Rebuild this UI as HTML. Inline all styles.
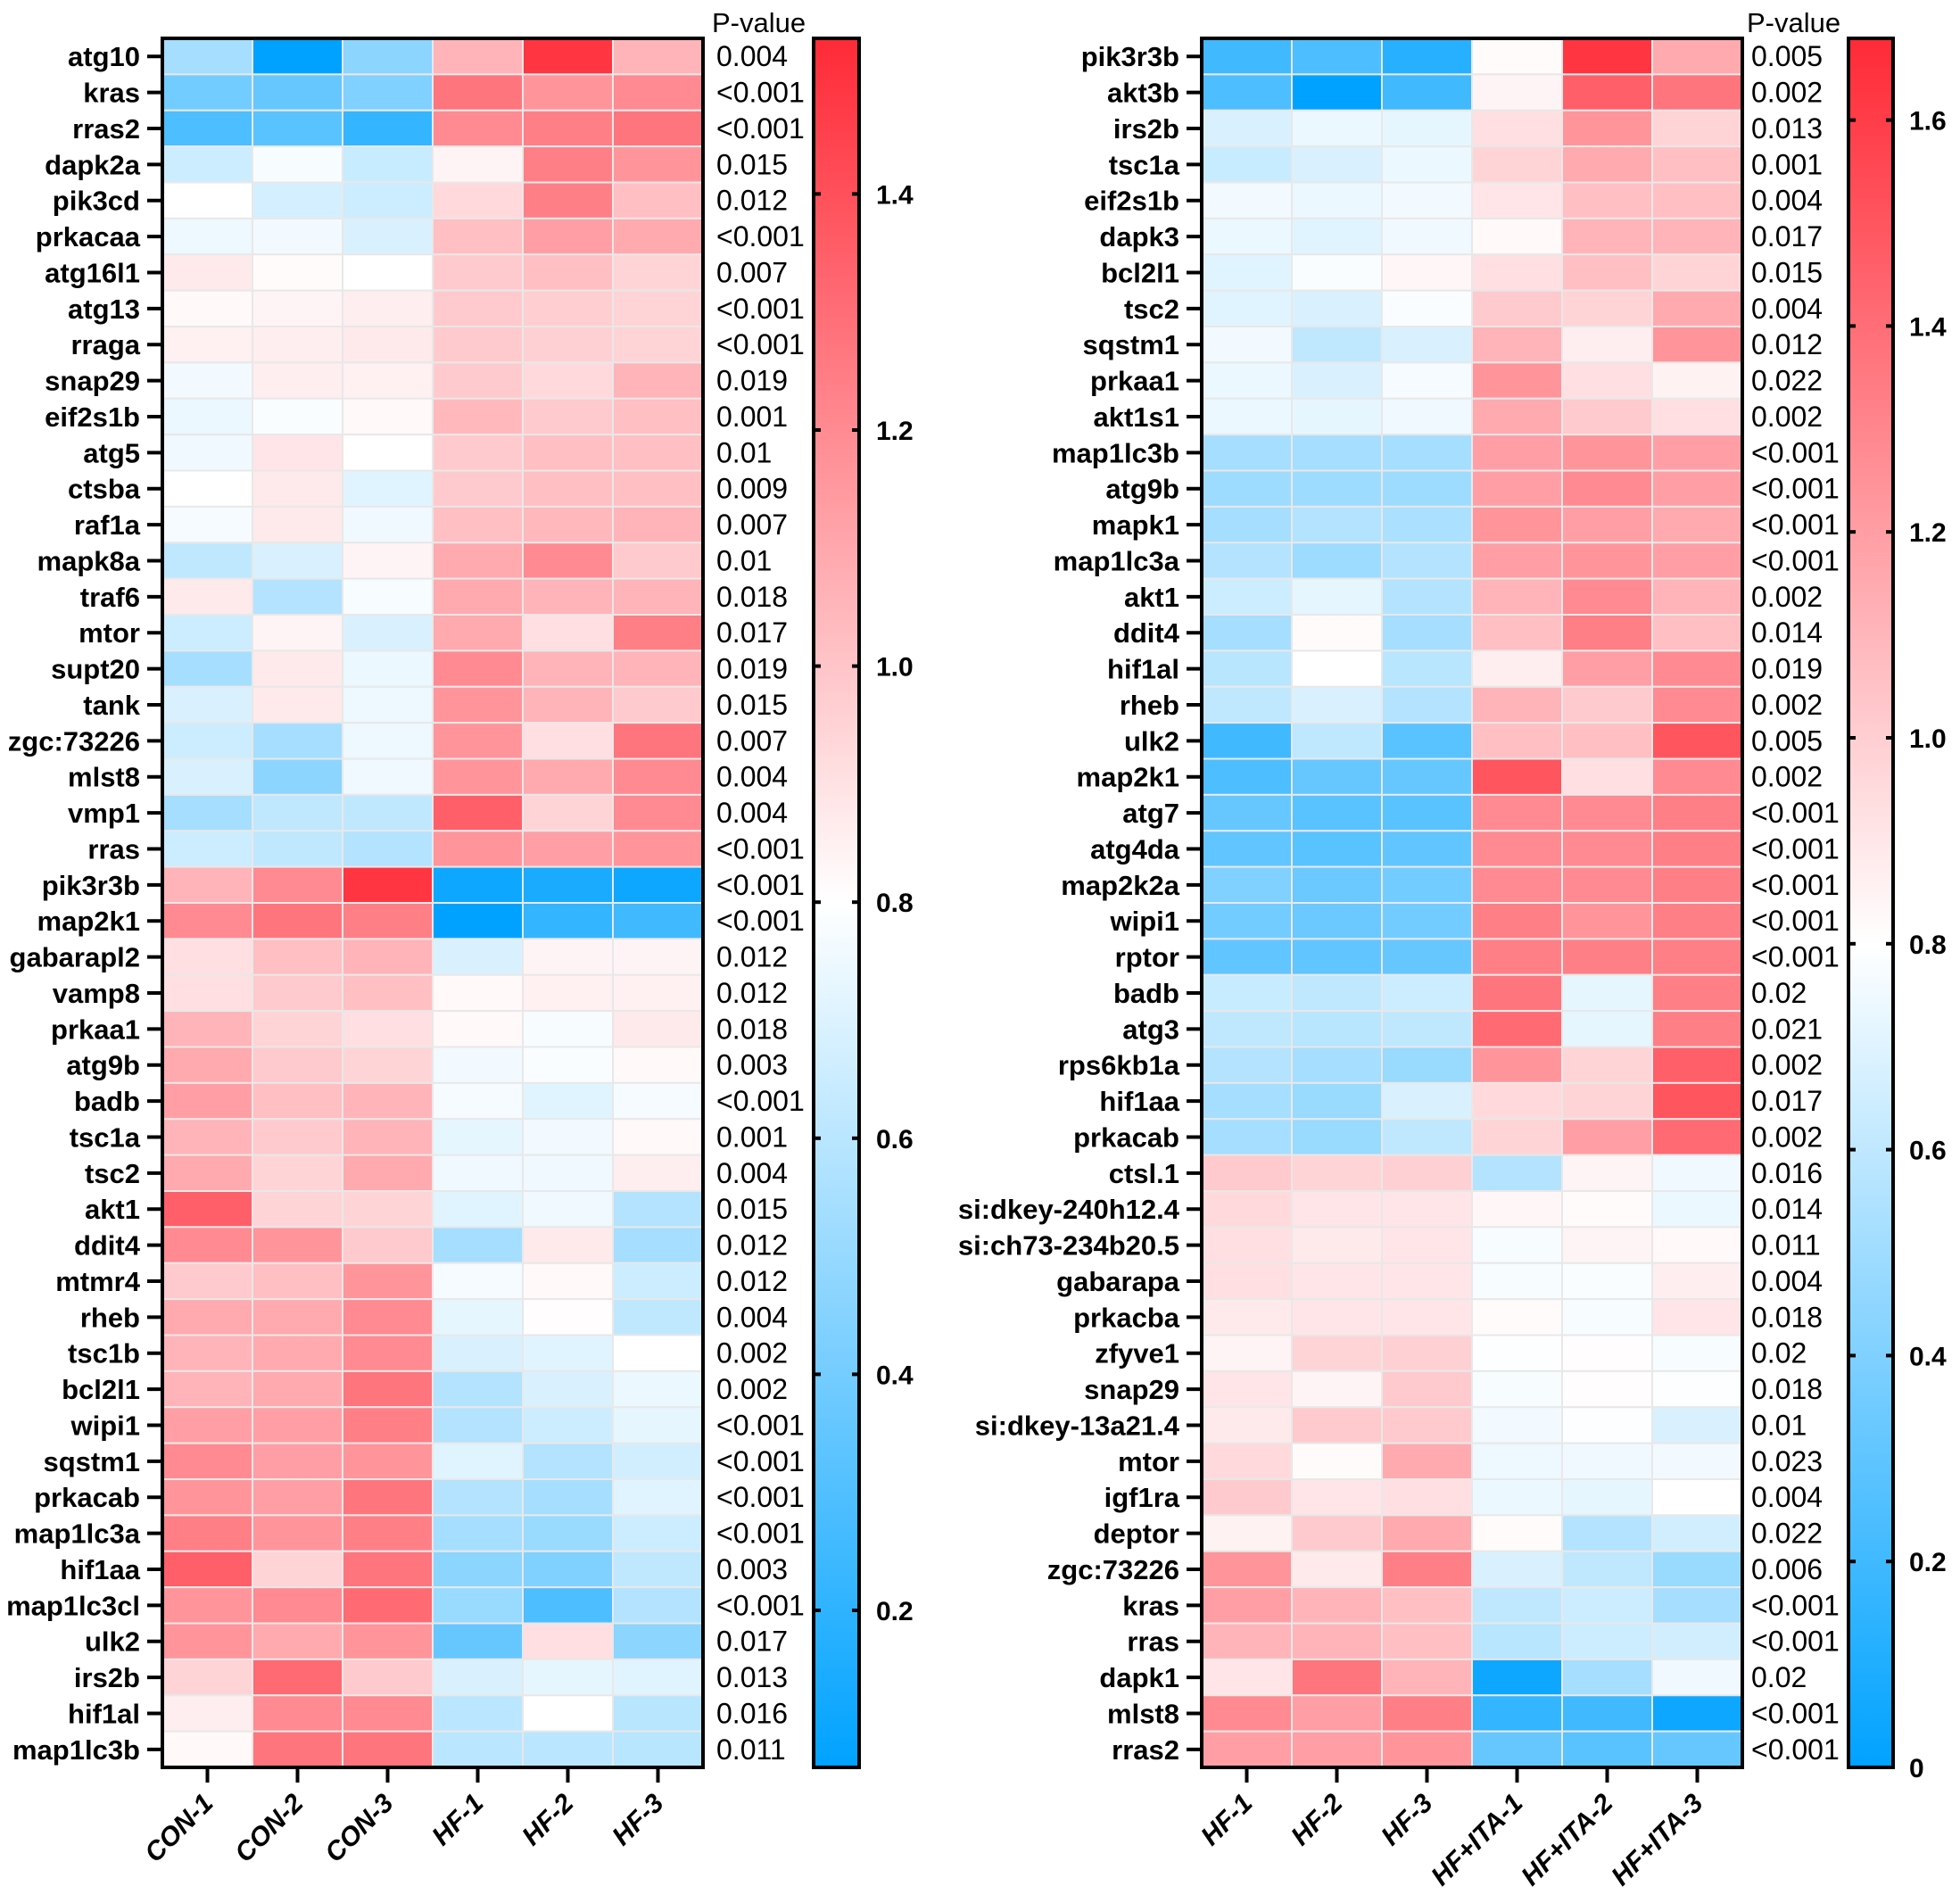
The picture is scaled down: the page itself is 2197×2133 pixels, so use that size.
<!DOCTYPE html>
<html><head><meta charset="utf-8"><style>
html,body{margin:0;padding:0;background:#fff;}
svg{display:block;font-family:"Liberation Sans",Arial,sans-serif;}
</style></head><body>
<svg id="chart" width="2197" height="2133" viewBox="0 0 2197 2133" xmlns="http://www.w3.org/2000/svg"></svg>
<script>
// ---------- Left heatmap data (signed intensity: -1 full blue, 0 white, +1 full red) ----------
const leftCols = ["CON-1","CON-2","CON-3","HF-1","HF-2","HF-3"];
const leftRows = ["atg10","kras","rras2","dapk2a","pik3cd","prkacaa","atg16l1","atg13","rraga","snap29","eif2s1b","atg5","ctsba","raf1a","mapk8a","traf6","mtor","supt20","tank","zgc:73226","mlst8","vmp1","rras","pik3r3b","map2k1","gabarapl2","vamp8","prkaa1","atg9b","badb","tsc1a","tsc2","akt1","ddit4","mtmr4","rheb","tsc1b","bcl2l1","wipi1","sqstm1","prkacab","map1lc3a","hif1aa","map1lc3cl","ulk2","irs2b","hif1al","map1lc3b"];
const leftP = ["0.004","<0.001","<0.001","0.015","0.012","<0.001","0.007","<0.001","<0.001","0.019","0.001","0.01","0.009","0.007","0.01","0.018","0.017","0.019","0.015","0.007","0.004","0.004","<0.001","<0.001","<0.001","0.012","0.012","0.018","0.003","<0.001","0.001","0.004","0.015","0.012","0.012","0.004","0.002","0.002","<0.001","<0.001","<0.001","<0.001","0.003","<0.001","0.017","0.013","0.016","0.011"];
const leftVals = [
[-0.35,-1,-0.45,0.35,0.95,0.35],[-0.55,-0.6,-0.5,0.65,0.5,0.55],[-0.7,-0.65,-0.8,0.55,0.6,0.65],
[-0.2,-0.03,-0.22,0.05,0.6,0.5],[0,-0.17,-0.2,0.18,0.6,0.3],[-0.07,-0.05,-0.15,0.3,0.45,0.4],
[0.1,0.02,0,0.25,0.3,0.2],[0.03,0.05,0.08,0.25,0.23,0.2],[0.07,0.08,0.1,0.25,0.22,0.2],
[-0.05,0.08,0.07,0.25,0.18,0.35],[-0.08,-0.02,0.03,0.33,0.25,0.3],[-0.06,0.12,0,0.25,0.3,0.3],
[0,0.1,-0.12,0.25,0.3,0.3],[-0.04,0.1,-0.06,0.3,0.33,0.35],[-0.25,-0.15,0.05,0.4,0.55,0.25],
[0.1,-0.3,-0.03,0.4,0.35,0.35],[-0.2,0.05,-0.15,0.4,0.15,0.6],[-0.35,0.1,-0.08,0.55,0.35,0.35],
[-0.15,0.1,-0.07,0.5,0.35,0.25],[-0.2,-0.35,-0.07,0.5,0.15,0.65],[-0.15,-0.45,-0.06,0.5,0.4,0.55],
[-0.35,-0.25,-0.25,0.75,0.2,0.55],[-0.2,-0.25,-0.3,0.5,0.45,0.5],[0.35,0.55,0.95,-0.95,-0.9,-0.95],
[0.55,0.65,0.6,-1,-0.8,-0.75],[0.15,0.3,0.35,-0.15,0.05,0.05],[0.15,0.25,0.3,0.03,0.07,0.07],
[0.35,0.2,0.15,0.03,-0.03,0.1],[0.4,0.25,0.2,-0.05,-0.02,0.03],[0.45,0.3,0.35,-0.04,-0.12,-0.04],
[0.35,0.25,0.35,-0.1,-0.05,0.03],[0.4,0.2,0.4,-0.06,-0.06,0.08],[0.75,0.2,0.2,-0.12,-0.06,-0.3],
[0.55,0.5,0.25,-0.35,0.1,-0.35],[0.25,0.3,0.5,-0.04,0.03,-0.2],[0.4,0.4,0.55,-0.1,0.01,-0.25],
[0.35,0.4,0.55,-0.15,-0.12,0],[0.35,0.4,0.65,-0.3,-0.15,-0.08],[0.45,0.45,0.6,-0.3,-0.2,-0.1],
[0.55,0.45,0.5,-0.12,-0.3,-0.18],[0.5,0.45,0.65,-0.3,-0.35,-0.12],[0.6,0.5,0.6,-0.35,-0.4,-0.2],
[0.75,0.2,0.65,-0.45,-0.5,-0.25],[0.5,0.55,0.7,-0.4,-0.7,-0.3],[0.5,0.4,0.5,-0.6,0.15,-0.45],
[0.2,0.7,0.25,-0.15,-0.1,-0.12],[0.08,0.55,0.55,-0.27,0,-0.28],[0.03,0.65,0.65,-0.27,-0.27,-0.28]];
const leftTicks = ["0.2","0.4","0.6","0.8","1.0","1.2","1.4"];
const leftTickVals = [0.2,0.4,0.6,0.8,1.0,1.2,1.4];

// ---------- Right heatmap data ----------
const rightCols = ["HF-1","HF-2","HF-3","HF+ITA-1","HF+ITA-2","HF+ITA-3"];
const rightRows = ["pik3r3b","akt3b","irs2b","tsc1a","eif2s1b","dapk3","bcl2l1","tsc2","sqstm1","prkaa1","akt1s1","map1lc3b","atg9b","mapk1","map1lc3a","akt1","ddit4","hif1al","rheb","ulk2","map2k1","atg7","atg4da","map2k2a","wipi1","rptor","badb","atg3","rps6kb1a","hif1aa","prkacab","ctsl.1","si:dkey-240h12.4","si:ch73-234b20.5","gabarapa","prkacba","zfyve1","snap29","si:dkey-13a21.4","mtor","igf1ra","deptor","zgc:73226","kras","rras","dapk1","mlst8","rras2"];
const rightP = ["0.005","0.002","0.013","0.001","0.004","0.017","0.015","0.004","0.012","0.022","0.002","<0.001","<0.001","<0.001","<0.001","0.002","0.014","0.019","0.002","0.005","0.002","<0.001","<0.001","<0.001","<0.001","<0.001","0.02","0.021","0.002","0.017","0.002","0.016","0.014","0.011","0.004","0.018","0.02","0.018","0.01","0.023","0.004","0.022","0.006","<0.001","<0.001","0.02","<0.001","<0.001"];
const rightVals = [
[-0.75,-0.7,-0.85,0.02,0.95,0.4],[-0.7,-1,-0.75,0.05,0.75,0.65],[-0.15,-0.08,-0.1,0.15,0.5,0.2],
[-0.22,-0.15,-0.08,0.2,0.4,0.3],[-0.05,-0.08,-0.05,0.12,0.3,0.3],[-0.08,-0.12,-0.06,0.03,0.35,0.35],
[-0.12,-0.02,0.04,0.15,0.3,0.2],[-0.12,-0.15,-0.02,0.25,0.2,0.4],[-0.05,-0.25,-0.15,0.35,0.08,0.5],
[-0.08,-0.15,-0.04,0.5,0.15,0.06],[-0.08,-0.1,-0.06,0.4,0.25,0.15],[-0.35,-0.35,-0.35,0.45,0.5,0.45],
[-0.38,-0.38,-0.38,0.45,0.55,0.45],[-0.35,-0.3,-0.33,0.5,0.45,0.4],[-0.3,-0.38,-0.3,0.45,0.5,0.45],
[-0.2,-0.1,-0.3,0.35,0.55,0.35],[-0.35,0.02,-0.35,0.3,0.6,0.3],[-0.28,0,-0.28,0.08,0.45,0.55],
[-0.25,-0.15,-0.3,0.35,0.25,0.55],[-0.75,-0.25,-0.65,0.3,0.3,0.8],[-0.7,-0.6,-0.6,0.8,0.15,0.55],
[-0.6,-0.65,-0.65,0.55,0.55,0.6],[-0.62,-0.65,-0.62,0.55,0.55,0.6],[-0.5,-0.58,-0.55,0.55,0.55,0.6],
[-0.55,-0.58,-0.55,0.6,0.5,0.6],[-0.62,-0.62,-0.6,0.6,0.6,0.6],[-0.22,-0.25,-0.2,0.65,-0.1,0.6],
[-0.25,-0.28,-0.25,0.7,-0.1,0.6],[-0.3,-0.35,-0.4,0.5,0.2,0.75],[-0.35,-0.4,-0.15,0.18,0.2,0.8],
[-0.35,-0.4,-0.25,0.2,0.45,0.7],[0.25,0.2,0.22,-0.3,0.05,-0.06],[0.18,0.12,0.12,0.04,0.02,-0.08],
[0.15,0.1,0.12,-0.03,0.05,0.03],[0.15,0.12,0.12,-0.03,-0.02,0.08],[0.1,0.12,0.12,0.02,-0.03,0.12],
[0.05,0.2,0.22,-0.01,0.01,-0.03],[0.12,0.05,0.25,-0.03,0.01,-0.01],[0.1,0.25,0.25,-0.05,-0.01,-0.15],
[0.18,0.02,0.4,-0.07,-0.06,-0.05],[0.25,0.12,0.15,-0.08,-0.1,0],[0.06,0.25,0.4,0.02,-0.3,-0.18],
[0.5,0.1,0.6,-0.15,-0.25,-0.4],[0.45,0.35,0.3,-0.25,-0.2,-0.35],[0.35,0.35,0.3,-0.28,-0.2,-0.18],
[0.12,0.65,0.35,-0.95,-0.35,-0.06],[0.55,0.45,0.6,-0.8,-0.75,-0.95],[0.45,0.45,0.5,-0.6,-0.65,-0.6]];
const rightTicks = ["0","0.2","0.4","0.6","0.8","1.0","1.2","1.4","1.6"];
const rightTickVals = [0,0.2,0.4,0.6,0.8,1.0,1.2,1.4,1.6];

const NS = "http://www.w3.org/2000/svg";
const svg = document.getElementById('chart');
function mk(tag, attrs, parent){
  const e = document.createElementNS(NS, tag);
  for (const k in attrs) e.setAttribute(k, attrs[k]);
  (parent||svg).appendChild(e);
  return e;
}
const BLUE=[0,162,255], RED=[255,42,55];
function color(t){
  t=Math.max(-1,Math.min(1,t));
  const c = t<0?BLUE:RED, a=Math.abs(t);
  const r=Math.round(255+(c[0]-255)*a), g=Math.round(255+(c[1]-255)*a), b=Math.round(255+(c[2]-255)*a);
  return `rgb(${r},${g},${b})`;
}

function drawPanel(cfg){
  const {x0,x1,y0,y1,rows,cols,vals,pvals,pX,cbX0,cbX1,cbLabX,ticks,tickVals,tickY,whiteFrac,prefix} = cfg;
  const g = mk('g',{});
  
  
  const cw=(x1-x0)/cols.length, rh=(y1-y0)/rows.length;
  const xScale = i => x0 + i*cw;
  const yScale = j => y0 + j*rh;
  vals.forEach((row,j)=>{
    row.forEach((v,i)=>{
      const r = mk('rect',{x:xScale(i),y:yScale(j),width:cw,height:rh,fill:color(v),stroke:'#e8e8e8','stroke-width':2},g);
      
      
    });
  });
  const fr = mk('rect',{x:x0,y:y0,width:x1-x0,height:y1-y0,fill:'none',stroke:'#000','stroke-width':4},g);
  
  
  rows.forEach((name,j)=>{
    const cy = yScale(j)+rh/2;
    mk('line',{x1:x0-17,x2:x0,y1:cy,y2:cy,stroke:'#000','stroke-width':4},g);
    const t = mk('text',{x:x0-25,y:cy+11,'text-anchor':'end','font-size':31,'font-weight':'bold',fill:'#000'},g);
    t.textContent = name;
    
    
    const p = mk('text',{x:pX,y:cy+11,'font-size':32,fill:'#000'},g);
    p.textContent = pvals[j];
    
    
  });
  cols.forEach((name,i)=>{
    const cx = xScale(i)+cw/2;
    mk('line',{x1:cx,x2:cx,y1:y1,y2:y1+17,stroke:'#000','stroke-width':4},g);
    const t = mk('text',{x:0,y:0,'text-anchor':'end','font-size':30,'font-weight':'bold','font-style':'italic',fill:'#000',transform:`translate(${cx+8},${y1+42}) rotate(-45)`},g);
    t.textContent = name;
    
    
  });
  const pt = mk('text',{x:pX-5,y:36,'font-size':31,fill:'#000'},g);
  pt.textContent = 'P-value';
  
  
  const gid = prefix+'-grad';
  const defs = mk('defs',{},g);
  const lg = mk('linearGradient',{id:gid,x1:0,y1:0,x2:0,y2:1},defs);
  mk('stop',{offset:0,'stop-color':color(1)},lg);
  mk('stop',{offset:whiteFrac,'stop-color':'#fff'},lg);
  mk('stop',{offset:1,'stop-color':color(-1)},lg);
  const cb = mk('rect',{x:cbX0,y:y0,width:cbX1-cbX0,height:y1-y0,fill:`url(#${gid})`,stroke:'#000','stroke-width':4},g);
  
  
  ticks.forEach((lab,k)=>{
    const ty = tickY(tickVals[k]);
    mk('line',{x1:cbX0,x2:cbX0+8,y1:ty,y2:ty,stroke:'#000','stroke-width':4},g);
    mk('line',{x1:cbX1-8,x2:cbX1,y1:ty,y2:ty,stroke:'#000','stroke-width':4},g);
    const t = mk('text',{x:cbLabX,y:ty+11,'font-size':30,'font-weight':'bold',fill:'#000'},g);
    t.textContent = lab;
    
    
  });
}

drawPanel({x0:182,x1:788,y0:43,y1:1981,rows:leftRows,cols:leftCols,vals:leftVals,pvals:leftP,pX:803,
  cbX0:912,cbX1:963,cbLabX:982,ticks:leftTicks,tickVals:leftTickVals,
  tickY:v=>1805-(v-0.2)*1323,whiteFrac:0.5,prefix:'left'});
drawPanel({x0:1347,x1:1953,y0:43,y1:1981,rows:rightRows,cols:rightCols,vals:rightVals,pvals:rightP,pX:1963,
  cbX0:2072,cbX1:2122,cbLabX:2140,ticks:rightTicks,tickVals:rightTickVals,
  tickY:v=>1981-v*1154,whiteFrac:0.524,prefix:'right'});
</script>
</body></html>
